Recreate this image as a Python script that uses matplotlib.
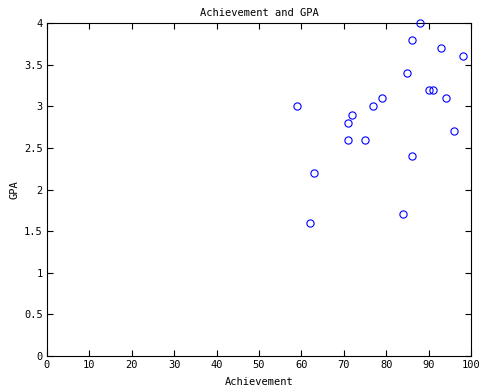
import matplotlib
matplotlib.use("Agg")
import matplotlib.pyplot as plt

achievement = [59, 62, 63, 71, 71, 72, 75, 77, 79, 84, 85, 86, 86, 88, 90, 91, 93, 94, 96, 98]
gpa = [3.0, 1.6, 2.2, 2.6, 2.8, 2.9, 2.6, 3.0, 3.1, 1.7, 3.4, 3.8, 2.4, 4.0, 3.2, 3.2, 3.7, 3.1, 2.7, 3.6]
xticks = [0, 10, 20, 30, 40, 50, 60, 70, 80, 90, 100]
yticks = [0, 0.5, 1, 1.5, 2, 2.5, 3, 3.5, 4]
ytick_labels = ["0", "0.5", "1", "1.5", "2", "2.5", "3", "3.5", "4"]

plt.rcParams['font.family'] = ['DejaVu Sans Mono']
fig = plt.figure(figsize=(4.79, 3.88), dpi=100)
ax = fig.add_axes([47/479, 32/388, 424/479, 333/388])
ax.plot(achievement, gpa, 'o', markerfacecolor='none', markeredgecolor='#0000ff',
        markersize=5.2, markeredgewidth=0.8, linestyle='none', clip_on=False, zorder=3)
ax.set_xlim(0, 100)
ax.set_ylim(0, 4)
ax.set_xticks(xticks)
ax.set_yticks(yticks)
ax.set_yticklabels(ytick_labels)
ax.tick_params(direction='in', top=True, right=True, length=4, width=0.8, labelsize=7.5, pad=3)
for s in ax.spines.values():
    s.set_linewidth(0.8)
ax.set_title("Achievement and GPA", fontsize=7.5, pad=5)
ax.set_xlabel("Achievement", fontsize=7.5, labelpad=5)
ax.set_ylabel("GPA", fontsize=7.5, labelpad=3)
fig.savefig("out.png", dpi=100)
